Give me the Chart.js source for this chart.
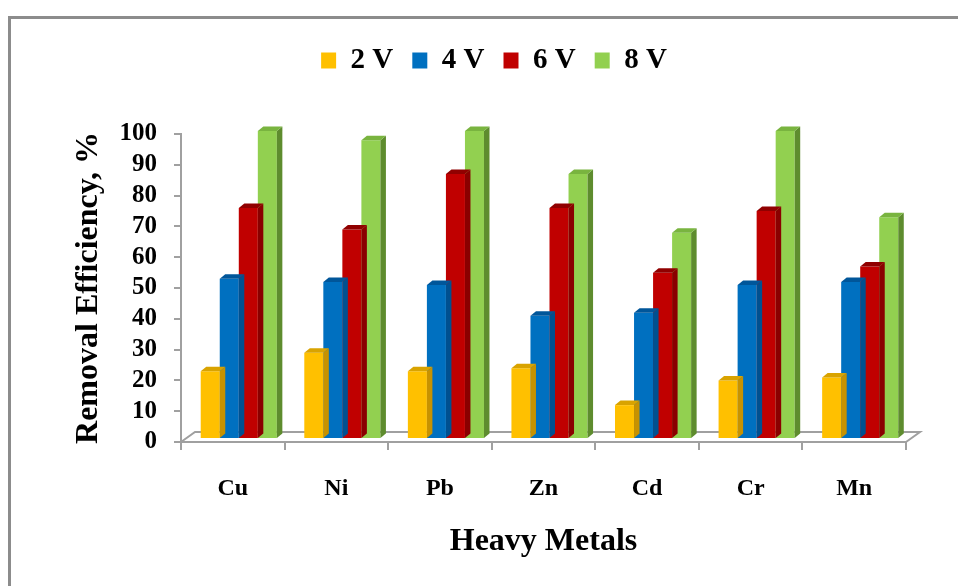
<!DOCTYPE html>
<html>
<head>
<meta charset="utf-8">
<script src="https://cdn.jsdelivr.net/npm/chart.js@4/dist/chart.umd.min.js"></script>
<style>
  body { margin: 0; background: #fff; }
  #wrap { position: relative; width: 958px; height: 586px; overflow: hidden; }
  #frame { position: absolute; left: 8px; top: 16px; width: 1000px; height: 700px;
           border: 3px solid #8c8c8c; box-sizing: border-box; }
  #c { position: absolute; left: 0; top: 0; }
</style>
</head>
<body>
<div id="wrap">
  <div id="frame"></div>
  <canvas id="c" width="958" height="586"></canvas>
</div>
<script>
//* Data
const metals = ['Cu', 'Ni', 'Pb', 'Zn', 'Cd', 'Cr', 'Mn'];
const volts2 = [22, 28, 22, 23, 11, 19, 20];
const volts4 = [52, 51, 50, 40, 41, 50, 51];
const volts6 = [75, 68, 86, 75, 54, 74, 56];
const volts8 = [100, 97, 100, 86, 67, 100, 72];

// front / top / side colours for each voltage
const faces = [
  { front: '#FFC000', top: '#D9A300', side: '#C79200' },
  { front: '#0070C0', top: '#00569A', side: '#005090' },
  { front: '#C00000', top: '#900000', side: '#8A0000' },
  { front: '#92D050', top: '#79B43F', side: '#5E8C2E' },
];

const axisGray = '#a0a0a0';
const serif = "'Liberation Serif', 'Times New Roman', serif";

// bar depth and floor depth
const depth = { dx: 5.5, dy: -4.5 };
const floorDepth = { dx: 14, dy: -10 };
const barShift = { x: 6, y: -3 };
const legendShift = 21;

//? Draws the floor, then shifts the bars back a little and adds top/side faces
const box3d = {
  id: 'box3d',
  afterLayout(chart) {
    // legend sits a bit right of the padded box centre
    chart.legend.left += legendShift;
    chart.legend.right += legendShift;
  },
  beforeDatasetsDraw(chart) {
    const { ctx, chartArea: a } = chart;
    ctx.save();
    ctx.strokeStyle = axisGray;
    ctx.lineWidth = 2;
    ctx.beginPath();
    ctx.moveTo(a.left, a.bottom);
    ctx.lineTo(a.left + floorDepth.dx, a.bottom + floorDepth.dy);
    ctx.lineTo(a.right + floorDepth.dx, a.bottom + floorDepth.dy);
    ctx.lineTo(a.right, a.bottom);
    ctx.stroke();
    ctx.restore();

    ctx.save();
    ctx.translate(barShift.x, barShift.y);
  },
  afterDatasetDraw(chart, args) {
    const { ctx } = chart;
    const f = faces[args.index];
    const meta = chart.getDatasetMeta(args.index);
    meta.data.forEach(bar => {
      const { x, y, width, base } = bar.getProps(['x', 'y', 'width', 'base'], true);
      const l = x - width / 2, r = x + width / 2;
      ctx.fillStyle = f.side;
      ctx.beginPath();
      ctx.moveTo(r, y);
      ctx.lineTo(r + depth.dx, y + depth.dy);
      ctx.lineTo(r + depth.dx, base + depth.dy);
      ctx.lineTo(r, base);
      ctx.closePath();
      ctx.fill();
      ctx.fillStyle = f.top;
      ctx.beginPath();
      ctx.moveTo(l, y);
      ctx.lineTo(l + depth.dx, y + depth.dy);
      ctx.lineTo(r + depth.dx, y + depth.dy);
      ctx.lineTo(r, y);
      ctx.closePath();
      ctx.fill();
    });
  },
  afterDatasetsDraw(chart) {
    chart.ctx.restore();
  }
};

const ctx = document.getElementById('c').getContext('2d');
const series = [volts2, volts4, volts6, volts8];
const names = ['2 V', '4 V', '6 V', '8 V'];

new Chart(ctx, {
  type: 'bar',
  data: {
    labels: metals,
    datasets: series.map((vals, i) => ({
      label: names[i],
      data: vals,
      backgroundColor: faces[i].front,
      borderWidth: 0,
      categoryPercentage: 0.735,
      barPercentage: 1.0,
    })),
  },
  plugins: [box3d],
  options: {
    responsive: false,
    animation: false,
    layout: { padding: { top: 27, left: 40, right: 52, bottom: 10 } },
    plugins: {
      tooltip: { enabled: false },
      legend: {
        position: 'top',
        labels: {
          boxWidth: 15,
          boxHeight: 16,
          padding: 19,
          color: '#000',
          font: { family: serif, size: 29, weight: 'bold' },
        },
      },
      // empty spacer between legend and plot
      title: {
        display: true,
        text: '',
        weight: 100,
        font: { size: 1, lineHeight: 1 },
        padding: { top: 48, bottom: 0 },
      },
    },
    scales: {
      x: {
        afterFit(scale) { scale.height = 134; },
        grid: { drawOnChartArea: false, drawTicks: true, tickLength: 8, color: axisGray, lineWidth: 2 },
        border: { display: true, color: axisGray, width: 2 },
        ticks: { color: '#000', padding: 24, font: { family: serif, size: 24, weight: 'bold' } },
        title: {
          display: true,
          text: 'Heavy Metals',
          color: '#000',
          font: { family: serif, size: 32, weight: 'bold' },
          padding: { top: 0, bottom: 15 },
        },
      },
      y: {
        min: 0,
        max: 100,
        afterFit(scale) { scale.width = 181 - 40; },
        grid: { drawOnChartArea: false, drawTicks: true, tickLength: 7, color: axisGray, lineWidth: 2 },
        border: { display: true, color: axisGray, width: 2 },
        ticks: { stepSize: 10, autoSkip: false, color: '#000', padding: 17,
                 font: { family: serif, size: 25, weight: 'bold', lineHeight: 1 } },
        title: {
          display: true,
          text: 'Removal Efficiency, %',
          color: '#000',
          font: { family: serif, size: 32, weight: 'bold' },
          padding: { top: 30, bottom: 0 },
        },
      },
    },
  },
});
</script>
</body>
</html>
